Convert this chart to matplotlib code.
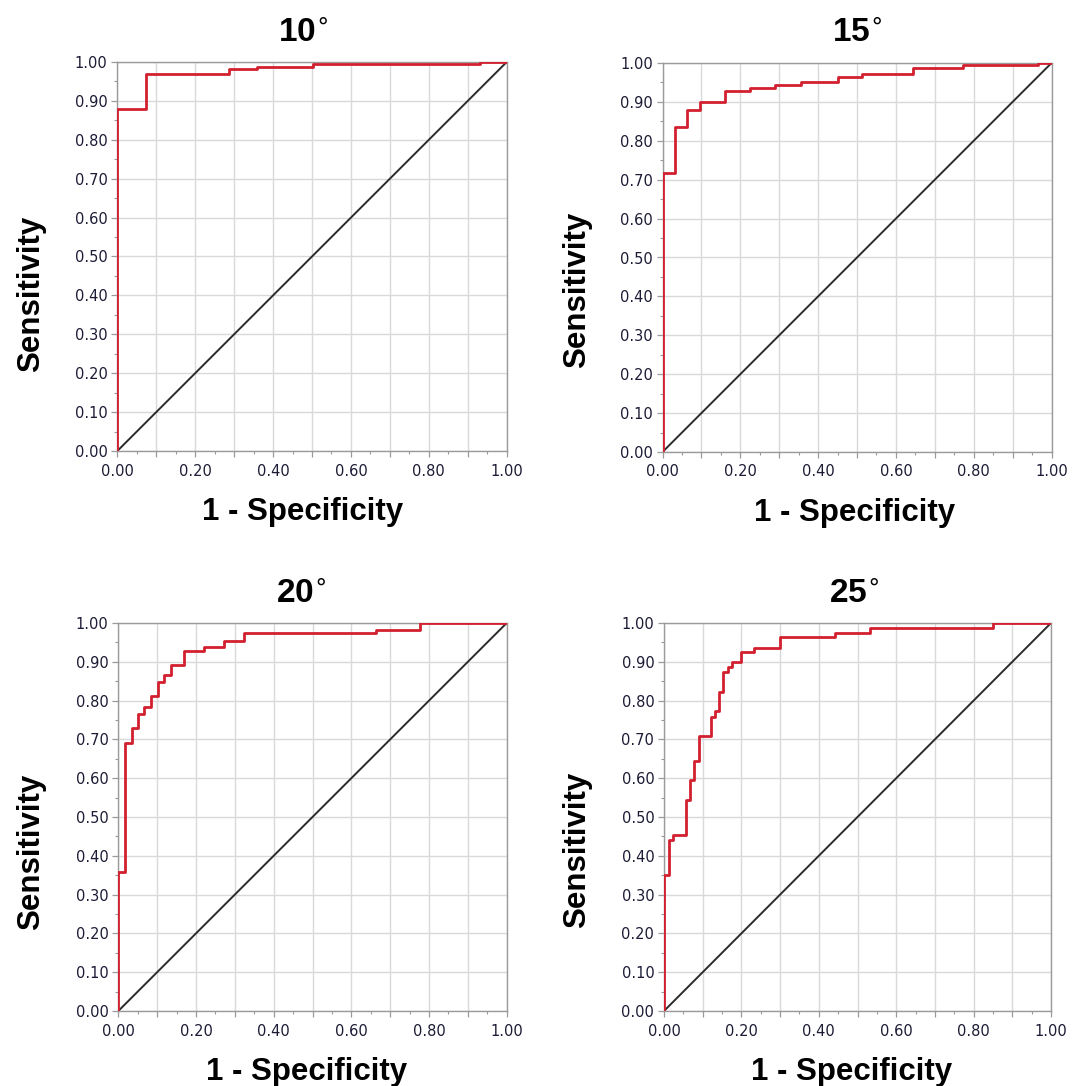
import matplotlib
matplotlib.use("Agg")
import matplotlib.pyplot as plt
from matplotlib.ticker import MultipleLocator, FuncFormatter

# ---- data (corner points of the ROC step curves: x = 1-specificity, y = sensitivity)
titles = ["10$^{\\circ}$", "15$^{\\circ}$", "20$^{\\circ}$", "25$^{\\circ}$"]

fpr_10 = [0.0, 0.0, 0.073, 0.288, 0.358, 0.502, 0.932, 1.0]
tpr_10 = [0.0, 0.879, 0.969, 0.981, 0.988, 0.994, 1.0, 1.0]

fpr_15 = [0.0, 0.0, 0.032, 0.063, 0.096, 0.160, 0.224, 0.290, 0.356, 0.451,
          0.514, 0.644, 0.773, 0.966, 1.0]
tpr_15 = [0.0, 0.717, 0.835, 0.878, 0.900, 0.928, 0.935, 0.943, 0.950, 0.964,
          0.972, 0.986, 0.994, 1.0, 1.0]

fpr_20 = [0.0, 0.0, 0.017, 0.034, 0.050, 0.067, 0.084, 0.101, 0.118, 0.136,
          0.169, 0.221, 0.272, 0.324, 0.663, 0.776, 1.0]
tpr_20 = [0.0, 0.358, 0.692, 0.729, 0.765, 0.784, 0.811, 0.848, 0.866, 0.892,
          0.928, 0.938, 0.954, 0.975, 0.983, 1.0, 1.0]

fpr_25 = [0.0, 0.0, 0.013, 0.022, 0.056, 0.067, 0.078, 0.090, 0.122, 0.133,
          0.143, 0.153, 0.166, 0.176, 0.199, 0.233, 0.300, 0.442, 0.533, 0.851, 1.0]
tpr_25 = [0.0, 0.351, 0.440, 0.454, 0.543, 0.595, 0.645, 0.709, 0.758, 0.773,
          0.823, 0.873, 0.886, 0.899, 0.925, 0.936, 0.963, 0.975, 0.987, 1.0, 1.0]

ref_line = [0.0, 1.0]
xlabel = "1 - Specificity"
ylabel = "Sensitivity"

curves = [(fpr_10, tpr_10), (fpr_15, tpr_15), (fpr_20, tpr_20), (fpr_25, tpr_25)]

# ---- layout (pixels in a 1078x1086 figure)
W, H = 1078, 1086
axes_px = [  # left, top, right, bottom
    (117.3, 62, 506.7, 451),
    (662.5, 63, 1051.5, 452),
    (118.3, 623, 506.7, 1011),
    (664, 623, 1051, 1011),
]
title_px = [(303, 41.7), (857, 42.5), (301, 602.7), (854, 602.7)]
xlab_px = [(302.5, 520), (855, 521), (307, 1080), (852, 1080)]
ylab_px = [(31, 294), (577, 290), (31, 852), (577, 850)]

fig = plt.figure(figsize=(W / 100, H / 100), dpi=100)

red = "#d2202f"
spine_c = "#9a9a9a"
grid_c = "#d9d9d9"
tick_c = "#1c1c36"

def fmt_x(v, pos):
    k = int(round(v * 10))
    return f"{v:.2f}" if k % 2 == 0 else ""

for i, (fx, ty) in enumerate(curves):
    l, t, r, b = axes_px[i]
    ax = fig.add_axes([l / W, 1 - b / H, (r - l) / W, (b - t) / H])
    ax.set_xlim(0, 1)
    ax.set_ylim(0, 1)
    ax.xaxis.set_major_locator(MultipleLocator(0.1))
    ax.xaxis.set_minor_locator(MultipleLocator(0.05))
    ax.yaxis.set_major_locator(MultipleLocator(0.1))
    ax.yaxis.set_minor_locator(MultipleLocator(0.05))
    ax.xaxis.set_major_formatter(FuncFormatter(fmt_x))
    ax.yaxis.set_major_formatter(FuncFormatter(lambda v, p: f"{v:.2f}"))
    ax.grid(True, which="major", color=grid_c, linewidth=1.0)
    ax.set_axisbelow(True)
    for s in ax.spines.values():
        s.set_color(spine_c)
        s.set_linewidth(1.0)
    ax.tick_params(which="major", length=4.5, width=0.9, color=spine_c,
                   labelsize=10.5, labelcolor=tick_c, pad=2.5)
    ax.tick_params(axis="x", which="major", pad=4.5)
    ax.tick_params(which="minor", length=2.2, width=0.8, color=spine_c)
    ax.plot(ref_line, ref_line, color="#2b2b2b", linewidth=1.4, zorder=3)
    ax.plot(fx, ty, drawstyle="steps-post", color=red, linewidth=2.0, zorder=4)

    tx, tyy = title_px[i]
    fig.text(tx / W, 1 - tyy / H, titles[i], ha="center", va="baseline",
             fontsize=24, fontweight="bold", family="Liberation Sans")
    xx, xy = xlab_px[i]
    fig.text(xx / W, 1 - xy / H, xlabel, ha="center", va="baseline",
             fontsize=22.5, fontweight="bold", family="Liberation Sans")
    yx, yy = ylab_px[i]
    fig.text(yx / W, 1 - yy / H, ylabel, ha="center", va="center", rotation=90,
             fontsize=22.5, fontweight="bold", family="Liberation Sans")

fig.savefig("out.png", dpi=100, facecolor="white")
